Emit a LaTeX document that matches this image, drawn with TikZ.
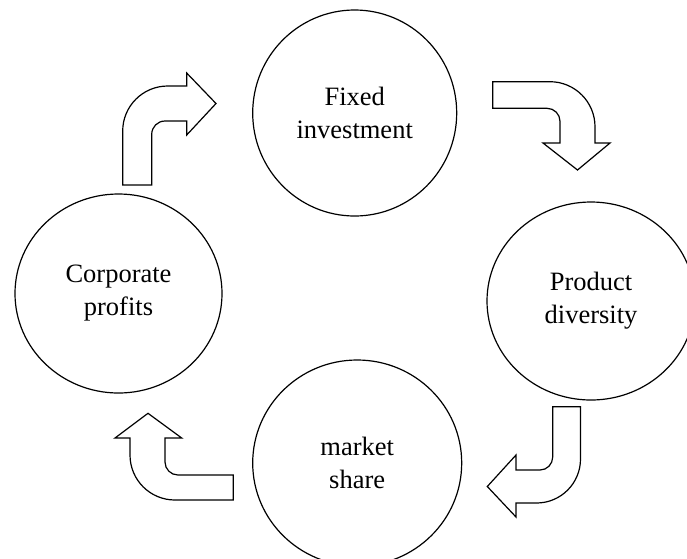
\documentclass[tikz,border=0pt]{standalone}
\usepackage{fontspec}
\setmainfont{Liberation Serif}
\usetikzlibrary{shapes.geometric}
\begin{document}
\begin{tikzpicture}[x=1pt,y=-1pt,
  stage/.style={ellipse, draw=black, line width=1.2pt, inner sep=0pt,
    align=center, font=\fontsize{26.5}{33}\selectfont},
  bent/.style={draw=black, line width=1.2pt, fill=white, line join=miter}]
\useasboundingbox (0,0) rectangle (687,558);

% the four stages of the cycle
\node[stage, minimum width=204pt, minimum height=206pt] (fixed) at (354.7,113) {Fixed\\investment};
\node[stage, minimum width=208pt, minimum height=198pt] (prod) at (591,301) {Product\\diversity};
\node[stage, minimum width=209pt, minimum height=206pt] (share) at (357.2,463) {market\\share};
\node[stage, minimum width=207pt, minimum height=199pt] (profit) at (118.5,293.5) {Corporate\\profits};

% bent block arrows between the stages
% profits -> fixed investment
\draw[bent] (122.7,185) -- (122.7,131)
  .. controls (122.7,106.2) and (142.8,86) .. (167.7,86)
  -- (186.7,86) -- (186.7,73) -- (216,103.5) -- (186.7,135) -- (186.7,121)
  -- (165,121) .. controls (157.65,121) and (151.7,126.95) .. (151.7,134.3)
  -- (151.7,185) -- cycle;
% fixed investment -> product diversity
\draw[bent] (492.7,81.7) -- (550,81.7)
  .. controls (574.8,81.7) and (595,101.9) .. (595,126.7)
  -- (595,143) -- (610,143) -- (577.5,170) -- (543,143) -- (560,143)
  -- (560,121.3) .. controls (560,114.1) and (554.2,108.3) .. (547,108.3)
  -- (492.7,108.3) -- cycle;
% product diversity -> market share
\draw[bent] (552.7,406.7) -- (580.5,406.7) -- (580.5,459)
  .. controls (580.5,483.3) and (560.8,503) .. (536.5,503)
  -- (516,503) -- (516,517) -- (487.3,486.5) -- (516,455) -- (516,470)
  -- (540,470) .. controls (547,470) and (552.7,464.2) .. (552.7,457)
  -- cycle;
% market share -> profits
\draw[bent] (233.3,475) -- (178,475)
  .. controls (170.8,475) and (165,469.2) .. (165,462)
  -- (165,438) -- (181.7,438) -- (148,413.3) -- (115,438) -- (130,438)
  -- (130,455) .. controls (130,479.9) and (150.1,500) .. (175,500)
  -- (233.3,500) -- cycle;
\end{tikzpicture}
\end{document}
